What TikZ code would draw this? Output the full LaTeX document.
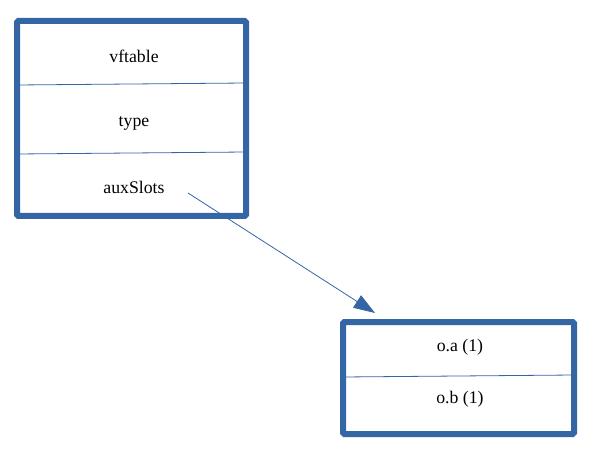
\documentclass[tikz,border=0pt]{standalone}
\usepackage{fontspec}
\setmainfont{Liberation Serif}
\usetikzlibrary{arrows.meta}
\definecolor{boxblue}{HTML}{3465A4}

\tikzset{
  frame/.style={draw=boxblue, line width=4.5pt, rounded corners=1pt, inner sep=0pt},
  divider/.style={boxblue, line width=0.6pt},
  field/.style={anchor=base, inner sep=0pt, font=\fontsize{13.3}{15}\selectfont},
  pointer/.style={boxblue, line width=0.6pt, -{Triangle[length=16pt,width=11pt]}}
}

\begin{document}
\begin{tikzpicture}[x=0.75pt,y=-0.75pt]
\useasboundingbox (0,0) rectangle (596,452);
\node [frame, minimum width=171.75pt, minimum height=146.25pt] (obj) at (131.5,118.5) {};
\draw [divider] (17,85) -- (246,83);
\draw [divider] (17,154) -- (246,152);
\node [field] (vftable) at (134,63) {vftable};
\node [field] (type) at (134,126.5) {type};
\node [field] (auxSlots) at (134,193.5) {auxSlots};
\node [frame, minimum width=173.25pt, minimum height=84pt] (slots) at (458.5,378) {};
\draw [divider] (343,377) -- (574,375);
\node [field] (oa) at (460,351) {o.a (1)};
\node [field] (ob) at (460,403) {o.b (1)};
\coordinate (from) at (188,193);
\coordinate (to) at (375,313);
\draw [pointer] (from) -- (to);
\end{tikzpicture}
\end{document}
